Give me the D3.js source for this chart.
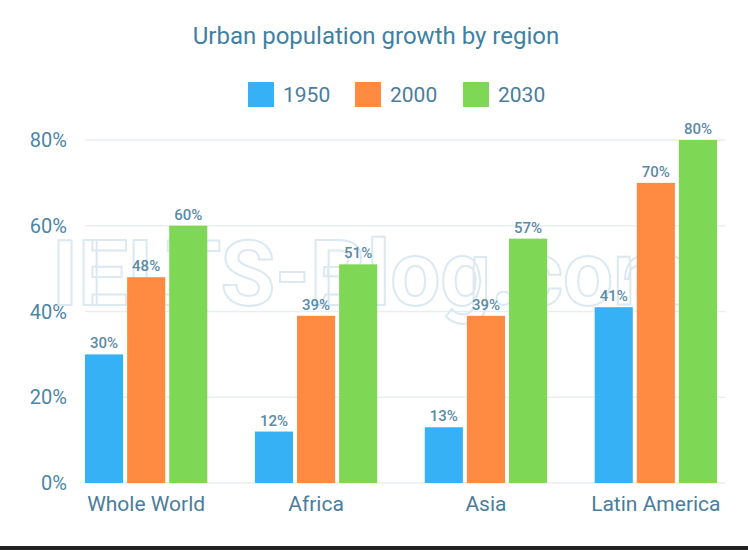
<!DOCTYPE html>
<html>
<head>
<meta charset="utf-8">
<script src="https://cdn.jsdelivr.net/npm/d3@7"></script>
<style>
  body { margin: 0; background: #fff; }
  svg { display: block; font-family: Roboto, "Open Sans", sans-serif; }
</style>
</head>
<body>
<svg id="chart"></svg>
<script>
const regions = ['Whole World', 'Africa', 'Asia', 'Latin America'];
const years = ['1950', '2000', '2030'];
const v1950 = [30, 12, 13, 41];
const v2000 = [48, 39, 39, 70];
const v2030 = [60, 51, 57, 80];
const yTicks = [0, 20, 40, 60, 80];
const colors = ['#36b1f6', '#ff8b43', '#7ed856'];

const width = 748, height = 550;
const svg = d3.select('#chart').attr('width', width).attr('height', height);

const rows = regions.map((r, i) => ({ region: r, values: [v1950[i], v2000[i], v2030[i]] }));

const x0 = d3.scaleBand().domain(regions).range([85, 717]).paddingInner(0.28);
const x1 = d3.scaleBand().domain(years).range([0, x0.bandwidth()]).paddingInner(0.095);
const y = d3.scaleLinear().domain([0, 80]).range([483, 140]);

// title
svg.append('text')
  .attr('x', 376).attr('y', 44)
  .attr('text-anchor', 'middle')
  .attr('font-size', 24)
  .attr('fill', '#3f81a4')
  .text('Urban population growth by region');

// legend
const legend = svg.append('g');
const legendX = [248, 355, 463];
years.forEach((yr, i) => {
  legend.append('rect')
    .attr('x', legendX[i]).attr('y', 82)
    .attr('width', 26).attr('height', 25)
    .attr('fill', colors[i]);
  legend.append('text')
    .attr('x', legendX[i] + 35).attr('y', 102)
    .attr('font-size', 21)
    .attr('fill', '#4a7d9b')
    .text(yr);
});

// gridlines + y labels
svg.append('g').selectAll('line')
  .data(yTicks)
  .enter().append('line')
  .attr('x1', 85).attr('x2', 725)
  .attr('y1', d => y(d)).attr('y2', d => y(d))
  .attr('stroke', '#e9eef1')
  .attr('stroke-width', 1.5);

svg.append('g').selectAll('text')
  .data(yTicks)
  .enter().append('text')
  .attr('x', 67)
  .attr('y', d => y(d))
  .attr('dy', '0.35em')
  .attr('text-anchor', 'end')
  .attr('font-size', 20)
  .attr('fill', '#4a86a7')
  .text(d => d + '%');

// watermark (outlined, behind the bars)
svg.append('text')
  .attr('x', 52).attr('y', 305)
  .attr('font-size', 90)
  .attr('font-weight', 'bold')
  .attr('fill', 'none')
  .attr('stroke', '#dce9f1')
  .attr('stroke-width', 2)
  .attr('textLength', 638)
  .attr('lengthAdjust', 'spacingAndGlyphs')
  .text('IELTS-Blog.com');

// bars
const groups = svg.append('g').selectAll('g')
  .data(rows)
  .enter().append('g')
  .attr('transform', d => `translate(${x0(d.region)},0)`);

groups.selectAll('rect')
  .data(d => d.values.map((v, i) => ({ year: years[i], value: v, i })))
  .enter().append('rect')
  .attr('x', d => x1(d.year))
  .attr('y', d => y(d.value))
  .attr('width', x1.bandwidth())
  .attr('height', d => y(0) - y(d.value))
  .attr('fill', d => colors[d.i]);

groups.selectAll('text')
  .data(d => d.values.map((v, i) => ({ year: years[i], value: v })))
  .enter().append('text')
  .attr('x', d => x1(d.year) + x1.bandwidth() / 2)
  .attr('y', d => y(d.value) - 6)
  .attr('text-anchor', 'middle')
  .attr('font-size', 15)
  .attr('font-weight', 500)
  .attr('fill', '#5b8ba6')
  .text(d => d.value + '%');

// category labels
svg.append('g').selectAll('text')
  .data(regions)
  .enter().append('text')
  .attr('x', d => x0(d) + x0.bandwidth() / 2)
  .attr('y', 511)
  .attr('text-anchor', 'middle')
  .attr('font-size', 21)
  .attr('fill', '#4a7d9b')
  .text(d => d);

// dark strip at bottom of the screenshot
svg.append('rect')
  .attr('x', 0).attr('y', 546)
  .attr('width', width).attr('height', 4)
  .attr('fill', '#222');
</script>
</body>
</html>
